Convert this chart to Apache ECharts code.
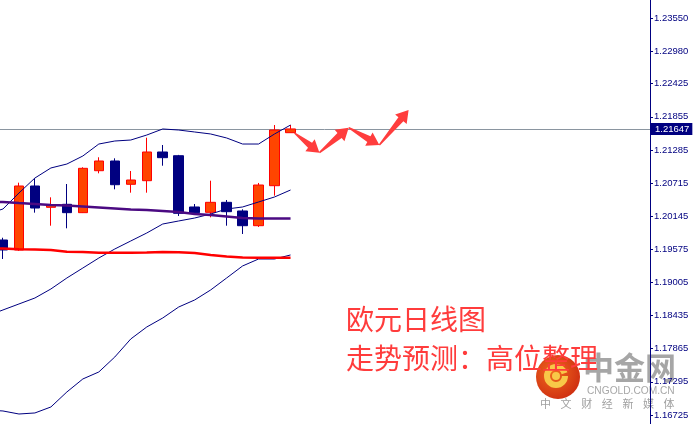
<!DOCTYPE html>
<html><head><meta charset="utf-8">
<script src="https://cdn.jsdelivr.net/npm/echarts@6/dist/echarts.min.js"></script>
<style>html,body{margin:0;padding:0;background:#fff}#c{width:693px;height:424px}</style>
</head><body><div id="c"></div>
<script>
// Daily bars: index 0 is just left of the visible window
const days = ['D0','D1','D2','D3','D4','D5','D6','D7','D8','D9','D10','D11','D12','D13','D14','D15','D16','D17','D18','D19',
  'D20','D21','D22','D23','D24','D25','D26','D27','D28','D29','D30','D31','D32','D33','D34','D35','D36','D37','D38','D39','D40','D41'];
// [open, close, low, high]
const ohlc = [
  '-',
  [1.19736, 1.19564, 1.19409, 1.19775],
  [1.19564, 1.20665, 1.19550, 1.20722],
  [1.20665, 1.20286, 1.20206, 1.20797],
  [1.20298, 1.20343, 1.19982, 1.20470],
  [1.20350, 1.20206, 1.19937, 1.20699],
  [1.20206, 1.20969, 1.20200, 1.20987],
  [1.20928, 1.21095, 1.20883, 1.21159],
  [1.21095, 1.20687, 1.20608, 1.21141],
  [1.20694, 1.20768, 1.20550, 1.20923],
  [1.20756, 1.21250, 1.20550, 1.21496],
  [1.21250, 1.21152, 1.21014, 1.21370],
  [1.21186, 1.20195, 1.20149, 1.21200],
  [1.20304, 1.20206, 1.20190, 1.20355],
  [1.20212, 1.20384, 1.20126, 1.20756],
  [1.20384, 1.20223, 1.19982, 1.20424],
  [1.20235, 1.19982, 1.19839, 1.20264],
  [1.19982, 1.20682, 1.19960, 1.20717],
  [1.20670, 1.21628, 1.20498, 1.21714],
  [1.21582, 1.21647, 1.21582, 1.21714]
];
const bbUpper = [1.20183,1.20269,1.20544,1.20802,1.20975,1.21043,1.21181,1.21387,1.21439,1.21456,1.21542,1.21646,1.21628,1.21594,1.21560,1.21491,1.21387,1.21387,1.21560,1.21714];
const bbMiddle = [1.18428,1.18532,1.18635,1.18738,1.18893,1.19082,1.19254,1.19426,1.19581,1.19719,1.19856,1.20011,1.20063,1.20114,1.20183,1.20269,1.20304,1.20390,1.20476,1.20596];
const bbLower = [1.16811,1.16794,1.16742,1.16760,1.16863,1.17121,1.17345,1.17465,1.17723,1.18033,1.18239,1.18394,1.18583,1.18704,1.18876,1.19082,1.19289,1.19409,1.19409,1.19478];
const maPurple = [1.20398,1.20390,1.20372,1.20355,1.20338,1.20329,1.20312,1.20295,1.20278,1.20261,1.20252,1.20235,1.20218,1.20183,1.20166,1.20140,1.20114,1.20106,1.20106,1.20106];
const maRed = [1.19598,1.19590,1.19576,1.19571,1.19564,1.19535,1.19529,1.19517,1.19517,1.19517,1.19521,1.19529,1.19524,1.19512,1.19478,1.19452,1.19435,1.19431,1.19431,1.19431];
const priceTicks = [1.16725,1.17295,1.17865,1.18435,1.19005,1.19575,1.20145,1.20715,1.21285,1.21855,1.22425,1.22980,1.23550];
const currentPrice = 1.21647;
// forecast zigzag: [bar index, price]
const forecast = [[19.25,1.21577],[20.81,1.21238],[22.64,1.21668],[24.56,1.21370],[26.39,1.21972]];
const title1 = '欧元日线图';
const title2 = '走势预测：高位整理';
const brand = '中金网';
const brandUrl = 'CNGOLD.COM.CN';
const brandSlogan = ['中','文','财','经','新','媒','体'];

const arrowSegs = [];
for (let i = 0; i < forecast.length - 1; i++) arrowSegs.push([forecast[i][0], forecast[i][1], forecast[i+1][0], forecast[i+1][1]]);

function renderArrow(params, api) {
  const p0 = api.coord([api.value(0), api.value(1)]);
  const p1 = api.coord([api.value(2), api.value(3)]);
  const dx = p1[0]-p0[0], dy = p1[1]-p0[1];
  const len = Math.sqrt(dx*dx+dy*dy);
  const ux = dx/len, uy = dy/len, nx = -uy, ny = ux;
  const headLen = 12, headW = 15, w0 = 1.5, w1 = 6.5;
  const bx = p1[0]-ux*headLen, by = p1[1]-uy*headLen;
  const pt = (x, y, w) => [x + nx*w/2, y + ny*w/2];
  const points = [pt(p0[0],p0[1],w0), pt(bx,by,w1), pt(bx,by,headW), p1,
    pt(bx,by,-headW), pt(bx,by,-w1), pt(p0[0],p0[1],-w0)];
  return {type:'polygon', shape:{points}, style:{fill:'#ff3d3d'}};
}

function line(name, data, color, width, extra) {
  return Object.assign({name, type:'line', data, showSymbol:false, symbol:'none', silent:true, z:3,
    lineStyle:{color, width}, animation:false}, extra || {});
}

const sloganEls = brandSlogan.map((ch, i) => ({type:'text', left:540 + i*20.6, top:398,
  style:{text:ch, fill:'#a0a0a0', font:'11px "Noto Sans CJK SC"'}}));

const chart = echarts.init(document.getElementById('c'), null, {renderer:'canvas'});
chart.setOption({
  animation:false,
  backgroundColor:'#ffffff',
  grid:{left:-21, width:671, top:0, bottom:0, containLabel:false, outerBoundsMode:'none'},
  xAxis:[
    {type:'category', data:days, show:false, boundaryGap:true},
    {type:'value', min:-0.5, max:41.5, show:false}
  ],
  yAxis:{type:'value', position:'right', min:1.16570, max:1.23865, scale:true,
    splitLine:{show:false},
    axisLine:{show:true, onZero:false, lineStyle:{color:'#000080', width:1}},
    axisTick:{show:true, inside:false, length:3, lineStyle:{color:'#000080'}, customValues:priceTicks},
    axisLabel:{customValues:priceTicks, formatter:v=>v.toFixed(5), color:'#000080', fontSize:9.5,
      fontFamily:'"Liberation Sans", Arial, sans-serif', margin:4}
  },
  series:[
    {type:'candlestick', data:ohlc, barWidth:10, z:2,
      itemStyle:{color:'#ff4500', color0:'#000080', borderColor:'#ff0000', borderColor0:'#000080', borderWidth:1}},
    line('upper', bbUpper, '#000080', 1),
    line('middle', bbMiddle, '#000080', 1),
    line('lower', bbLower, '#000080', 1),
    line('maPurple', maPurple, '#4b0a82', 2.5),
    line('maRed', maRed, '#ff0000', 2.5, {
      markLine:{silent:true, symbol:'none', animation:false, precision:5, z:1,
        lineStyle:{color:'#8a95a0', width:1, type:'solid'},
        label:{show:true, position:'end', distance:0, formatter:currentPrice.toFixed(5),
          color:'#ffffff', backgroundColor:'#000080', fontSize:9.5,
          fontFamily:'"Liberation Sans", Arial, sans-serif', padding:[1,3,1,5]},
        data:[{yAxis:currentPrice}]}
    }),
    {type:'custom', xAxisIndex:1, yAxisIndex:0, z:5, silent:true, clip:false,
      data:arrowSegs, renderItem:renderArrow}
  ],
  graphic:[
    {type:'text', left:346, top:305, z:10, style:{text:title1, fill:'#ff3c3c', font:'28px "Noto Sans CJK SC"'}},
    {type:'text', left:346, top:344, z:10, style:{text:title2, fill:'#ff3c3c', font:'28px "Noto Sans CJK SC"'}},
    {type:'group', z:20, children:[
      {type:'circle', shape:{cx:558, cy:377, r:22},
        style:{fill:new echarts.graphic.RadialGradient(0.4,0.4,0.7,[{offset:0,color:'#f06a1e'},{offset:1,color:'#cc2a10'}])}},
      {type:'arc', shape:{cx:556, cy:376, r:9, startAngle:0, endAngle:Math.PI*1.9}, style:{stroke:'#f8c848', lineWidth:6, fill:null}},
      {type:'circle', shape:{cx:556, cy:376, r:4}, style:{fill:'#f8c848'}},
      {type:'text', left:583, top:352, style:{text:brand, fill:'rgba(150,150,150,0.85)', font:'bold 31px "Noto Sans CJK SC"'}},
      {type:'text', left:587, top:386, style:{text:brandUrl, fill:'#a8a8a8', font:'10.2px "Liberation Sans"'}}
    ].concat(sloganEls)}
  ]
});
</script></body></html>
